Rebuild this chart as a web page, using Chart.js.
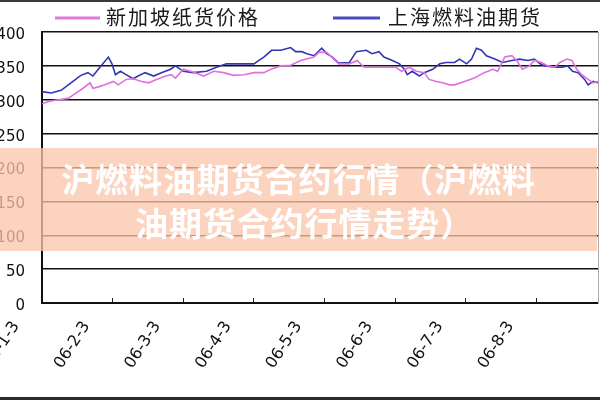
<!DOCTYPE html>
<html><head><meta charset="utf-8">
<script src="https://cdn.jsdelivr.net/npm/chart.js@4"></script>
<style>
html,body{margin:0;padding:0;background:#fff;}
#wrap{position:relative;width:600px;height:400px;overflow:hidden;background:#fff;}
#c{position:absolute;left:0;top:0;}
#topline{position:absolute;left:0;top:0;width:600px;height:2px;background:#3a3a3a;}
#botline{position:absolute;left:0;top:397px;width:600px;height:3px;background:#2a2a2a;}
#band{position:absolute;left:0;top:148px;width:597px;height:103px;background:rgba(250,197,171,0.76);display:flex;flex-direction:column;align-items:center;justify-content:center;}
#band div{color:#fff;font-family:"Noto Sans CJK SC";font-weight:700;font-size:33px;line-height:44px;letter-spacing:0.9px;white-space:nowrap;}
#band .l2{padding-left:12px;}
</style></head>
<body><div id="wrap"><canvas id="c" width="600" height="400"></canvas>
<div id="topline"></div><div id="botline"></div>
<div id="band"><div>沪燃料油期货合约行情（沪燃料</div><div class="l2">油期货合约行情走势）</div></div></div>
<script>
const tickLabels = ['06-1-3','06-2-3','06-3-3','06-4-3','06-5-3','06-6-3','06-7-3','06-8-3'];
const seriesNames = ['新加坡纸货价格','上海燃料油期货'];

// x = months since 06-1-3
const singaporeX = [0,0.09,0.23,0.37,0.47,0.58,0.68,0.72,0.80,0.89,1.01,1.08,1.19,1.29,1.41,1.51,1.62,1.75,1.83,1.89,2.00,2.14,2.29,2.43,2.57,2.71,2.86,3.00,3.14,3.24,3.38,3.52,3.66,3.85,3.92,4.03,4.13,4.20,4.35,4.46,4.56,4.67,4.82,5.01,5.09,5.20,5.30,5.41,5.48,5.58,5.67,5.77,5.84,5.98,6.12,6.26,6.38,6.45,6.55,6.65,6.72,6.80,6.90,6.97,7.07,7.16,7.26,7.33,7.43,7.50,7.57,7.64,7.73,7.80,7.87];
const singaporePrice = [294,297.5,300,302,309,317,325,317,319,322,327,322,330,331,327,325,330,335,337,332,345,341,335,342,340,336,337,340,340,345,350,351,358,363,370,370,360,353,353,358,348,348,348,348,342,348,342,340,330,327,325,322,322,327,332,340,345,342,363,365,358,345,350,358,355,350,348,355,360,358,345,337,330,325,327];

const shanghaiX = [0,0.13,0.27,0.41,0.55,0.65,0.72,0.82,0.94,0.99,1.04,1.11,1.19,1.29,1.36,1.46,1.58,1.69,1.82,1.89,2.00,2.14,2.33,2.47,2.61,2.81,3.00,3.07,3.14,3.25,3.38,3.52,3.59,3.68,3.75,3.85,3.96,4.03,4.11,4.20,4.35,4.45,4.59,4.67,4.77,4.84,4.96,5.06,5.13,5.17,5.24,5.34,5.41,5.53,5.63,5.72,5.84,5.91,6.01,6.08,6.15,6.22,6.29,6.41,6.52,6.65,6.76,6.88,6.97,7.05,7.12,7.26,7.36,7.44,7.51,7.59,7.68,7.73,7.80,7.87];
const shanghaiPrice = [312,310,314,325,336,340,335,348,363,353,337,342,337,331,335,340,335,340,345,350,342,340,342,348,353,353,353,358,363,373,373,377,371,371,368,365,376,368,363,354,355,371,373,368,371,363,358,353,345,337,342,335,340,345,353,355,355,360,353,360,376,373,365,360,355,358,360,358,360,353,350,348,348,350,342,340,330,322,327,325];

const yTicks = [0,50,100,150,200,250,300,350,400];

const legendPlugin = {
  id: 'refLegend',
  afterDraw(chart) {
    const ctx = chart.ctx;
    const spots = [{x0: 55, x1: 100, tx: 106}, {x0: 333, x1: 380, tx: 388}];
    ctx.save();
    ctx.font = '20px "Noto Sans CJK SC"';
    ctx.letterSpacing = '2px';
    ctx.textBaseline = 'middle';
    ctx.textAlign = 'left';
    ctx.fillStyle = '#1a1a1a';
    chart.data.datasets.forEach((ds, i) => {
      const s = spots[i];
      ctx.strokeStyle = ds.legendColor;
      ctx.lineWidth = 3;
      ctx.beginPath(); ctx.moveTo(s.x0, 18); ctx.lineTo(s.x1, 18); ctx.stroke();
      ctx.fillText(ds.label, s.tx, 17);
    });
    ctx.restore();
  }
};

new Chart(document.getElementById('c'), {
  type: 'line',
  data: {
    datasets: [
      { label: seriesNames[0], data: singaporeX.map((x, i) => ({x: x, y: singaporePrice[i]})),
        borderColor: '#e46ee0', legendColor: '#e07ad8', borderWidth: 1.6, pointRadius: 0, tension: 0, fill: false },
      { label: seriesNames[1], data: shanghaiX.map((x, i) => ({x: x, y: shanghaiPrice[i]})),
        borderColor: '#3434b4', legendColor: '#4a4ac0', borderWidth: 1.6, pointRadius: 0, tension: 0, fill: false }
    ]
  },
  options: {
    responsive: false,
    animation: false,
    layout: { padding: { top: 32, left: 0, right: 0, bottom: 0 } },
    plugins: { legend: { display: false }, tooltip: { enabled: false } },
    scales: {
      x: {
        type: 'linear', min: 0, max: 7.87,
        afterBuildTicks: s => { s.ticks = tickLabels.map((_, i) => ({ value: i })); },
        afterFit: s => { s.height = 97; s.paddingLeft = 0; s.paddingRight = 0; },
        grid: { drawOnChartArea: false, drawTicks: true, tickLength: -5, color: '#222', lineWidth: 1 },
        border: { color: '#111', width: 2 },
        ticks: {
          autoSkip: false, minRotation: 57, maxRotation: 57, labelOffset: -26, padding: 20,
          color: '#111', font: { family: 'DejaVu Sans', size: 16 },
          callback: (v, i) => tickLabels[i]
        }
      },
      y: {
        position: 'left', min: 0, max: 400,
        afterBuildTicks: s => { s.ticks = yTicks.map(v => ({ value: v })); },
        afterFit: s => { s.width = 42; },
        ticks: { padding: 17, labelOffset: 3, color: '#111', font: { family: 'DejaVu Sans', size: 15 } },
        grid: { color: '#111', lineWidth: 1.5, drawTicks: false },
        border: { color: '#111', width: 2 }
      },
      y2: {
        position: 'right', display: true, min: 0, max: 400,
        afterFit: s => { s.width = 2; },
        ticks: { display: false },
        grid: { drawOnChartArea: false, drawTicks: false },
        border: { color: '#aaa', width: 1 }
      }
    }
  },
  plugins: [legendPlugin]
});
</script>
</body></html>
